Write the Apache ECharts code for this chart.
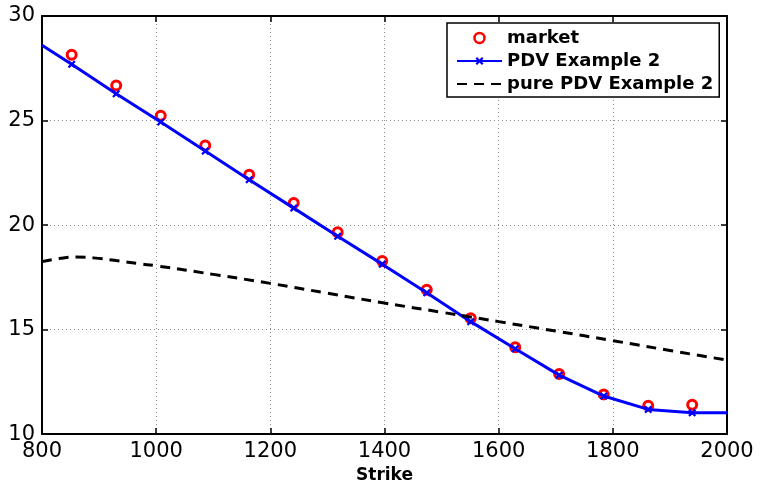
<!DOCTYPE html>
<html style="height: 100%">
<head>
<meta charset="utf-8">
<title>PDV Example 2</title>
<script src="https://cdn.jsdelivr.net/npm/echarts@6/dist/echarts.min.js"></script>
</head>
<body style="height: 100%; margin: 0; background: #fff">
<div id="container" style="width: 761px; height: 489px"></div>
<script>
// strikes where market vols and model vols were read
var strikes = [852, 930, 1008, 1086, 1163, 1241, 1318, 1396, 1474, 1551, 1629, 1706, 1784, 1862, 1939];
var marketVol = [28.15, 26.67, 25.23, 23.80, 22.41, 21.06, 19.66, 18.28, 16.90, 15.54, 14.16, 12.87, 11.90, 11.36, 11.40];
var pdvVol = [27.69, 26.28, 24.93, 23.54, 22.17, 20.81, 19.46, 18.13, 16.76, 15.38, 14.08, 12.82, 11.82, 11.18, 11.02];
// the PDV curve also runs to the edges of the axis (no marker there)
var pdvEdgeStrikes = [800, 2000];
var pdvEdgeVol = [28.60, 11.02];
// pure PDV curve
var pureStrikes = [800, 830, 860, 890, 930, 970, 1000, 1100, 1200, 1300, 1400, 1500, 1600, 1700, 1800, 1900, 2000];
var pureVol = [18.25, 18.40, 18.47, 18.43, 18.30, 18.15, 18.05, 17.64, 17.21, 16.74, 16.27, 15.83, 15.38, 14.93, 14.47, 14.00, 13.54];

var xTicks = [800, 1000, 1200, 1400, 1600, 1800, 2000];
var yTicks = [10, 15, 20, 25, 30];

var FONT = 'DejaVu Sans';
var xMark = 'path://M0,2 L2,0 L5,3 L8,0 L10,2 L7,5 L10,8 L8,10 L5,7 L2,10 L0,8 L3,5 Z';

var pdvData = [{ value: [pdvEdgeStrikes[0], pdvEdgeVol[0]], symbol: 'none' }];
for (var i = 0; i < strikes.length; i++) {
    pdvData.push([strikes[i], pdvVol[i]]);
}
pdvData.push({ value: [pdvEdgeStrikes[1], pdvEdgeVol[1]], symbol: 'none' });

var marketData = strikes.map(function (k, i) { return [k, marketVol[i]]; });
var pureData = pureStrikes.map(function (k, i) { return [k, pureVol[i]]; });

var gridLine = { show: true, lineStyle: { color: '#8c8c8c', type: [1, 3], width: 1 } };
var axisLine = { show: true, onZero: false, lineStyle: { color: '#000', width: 2 } };
var tick = { show: true, inside: true, length: 6, lineStyle: { color: '#000', width: 1.5 } };
var plain = function (v) { return String(v); };

var myChart = echarts.init(document.getElementById('container'));
var option = {
  animation: false,
  grid: { left: 42, right: 34, top: 16, bottom: 48 },
  legend: {
    orient: 'vertical',
    left: 447,
    top: 23,
    padding: [6, 6, 4, 9],
    itemGap: 5,
    itemWidth: 45,
    itemHeight: 10,
    borderColor: '#000',
    borderWidth: 1.5,
    backgroundColor: '#fff',
    textStyle: { fontFamily: FONT, fontWeight: 'bold', fontSize: 18, lineHeight: 18, color: '#000' },
    data: [
      { name: 'market', itemStyle: { color: 'rgba(0,0,0,0)', borderColor: '#ff0000', borderWidth: 2.5 } },
      'PDV Example 2',
      { name: 'pure PDV Example 2', itemStyle: { color: 'rgba(0,0,0,0)', borderWidth: 0, opacity: 0 } }
    ]
  },
  xAxis: [
    {
      type: 'value', min: xTicks[0], max: xTicks[xTicks.length - 1], interval: 200,
      position: 'bottom',
      name: 'Strike', nameLocation: 'middle', nameGap: 29,
      nameTextStyle: { fontFamily: FONT, fontWeight: 'bold', fontSize: 17, color: '#000' },
      axisLabel: { fontFamily: FONT, fontSize: 21, color: '#000', margin: 7, formatter: plain },
      axisLine: axisLine, axisTick: tick, splitLine: gridLine
    },
    {
      type: 'value', min: xTicks[0], max: xTicks[xTicks.length - 1], interval: 200,
      position: 'top',
      axisLabel: { show: false }, axisLine: axisLine, axisTick: tick, splitLine: { show: false }
    }
  ],
  yAxis: [
    {
      type: 'value', min: yTicks[0], max: yTicks[yTicks.length - 1], interval: 5,
      position: 'left',
      axisLabel: { fontFamily: FONT, fontSize: 21, color: '#000', margin: 7, formatter: plain },
      axisLine: axisLine, axisTick: tick, splitLine: gridLine
    },
    {
      type: 'value', min: yTicks[0], max: yTicks[yTicks.length - 1], interval: 5,
      position: 'right',
      axisLabel: { show: false }, axisLine: axisLine, axisTick: tick, splitLine: { show: false }
    }
  ],
  series: [
    {
      name: 'market',
      type: 'scatter',
      symbol: 'circle',
      symbolSize: 9,
      itemStyle: { color: 'rgba(0,0,0,0)', borderColor: '#ff0000', borderWidth: 3, opacity: 1 },
      data: marketData,
      z: 2
    },
    {
      name: 'PDV Example 2',
      type: 'line',
      symbol: xMark,
      symbolSize: 8,
      showAllSymbol: true,
      lineStyle: { color: '#0000ff', width: 3 },
      itemStyle: { color: '#0000ff' },
      data: pdvData,
      z: 3
    },
    {
      name: 'pure PDV Example 2',
      type: 'line',
      smooth: true,
      symbol: 'none',
      lineStyle: { color: '#000', width: 3, type: [10, 7] },
      itemStyle: { color: '#000' },
      data: pureData,
      z: 4
    }
  ]
};
myChart.setOption(option);
</script>
</body>
</html>
